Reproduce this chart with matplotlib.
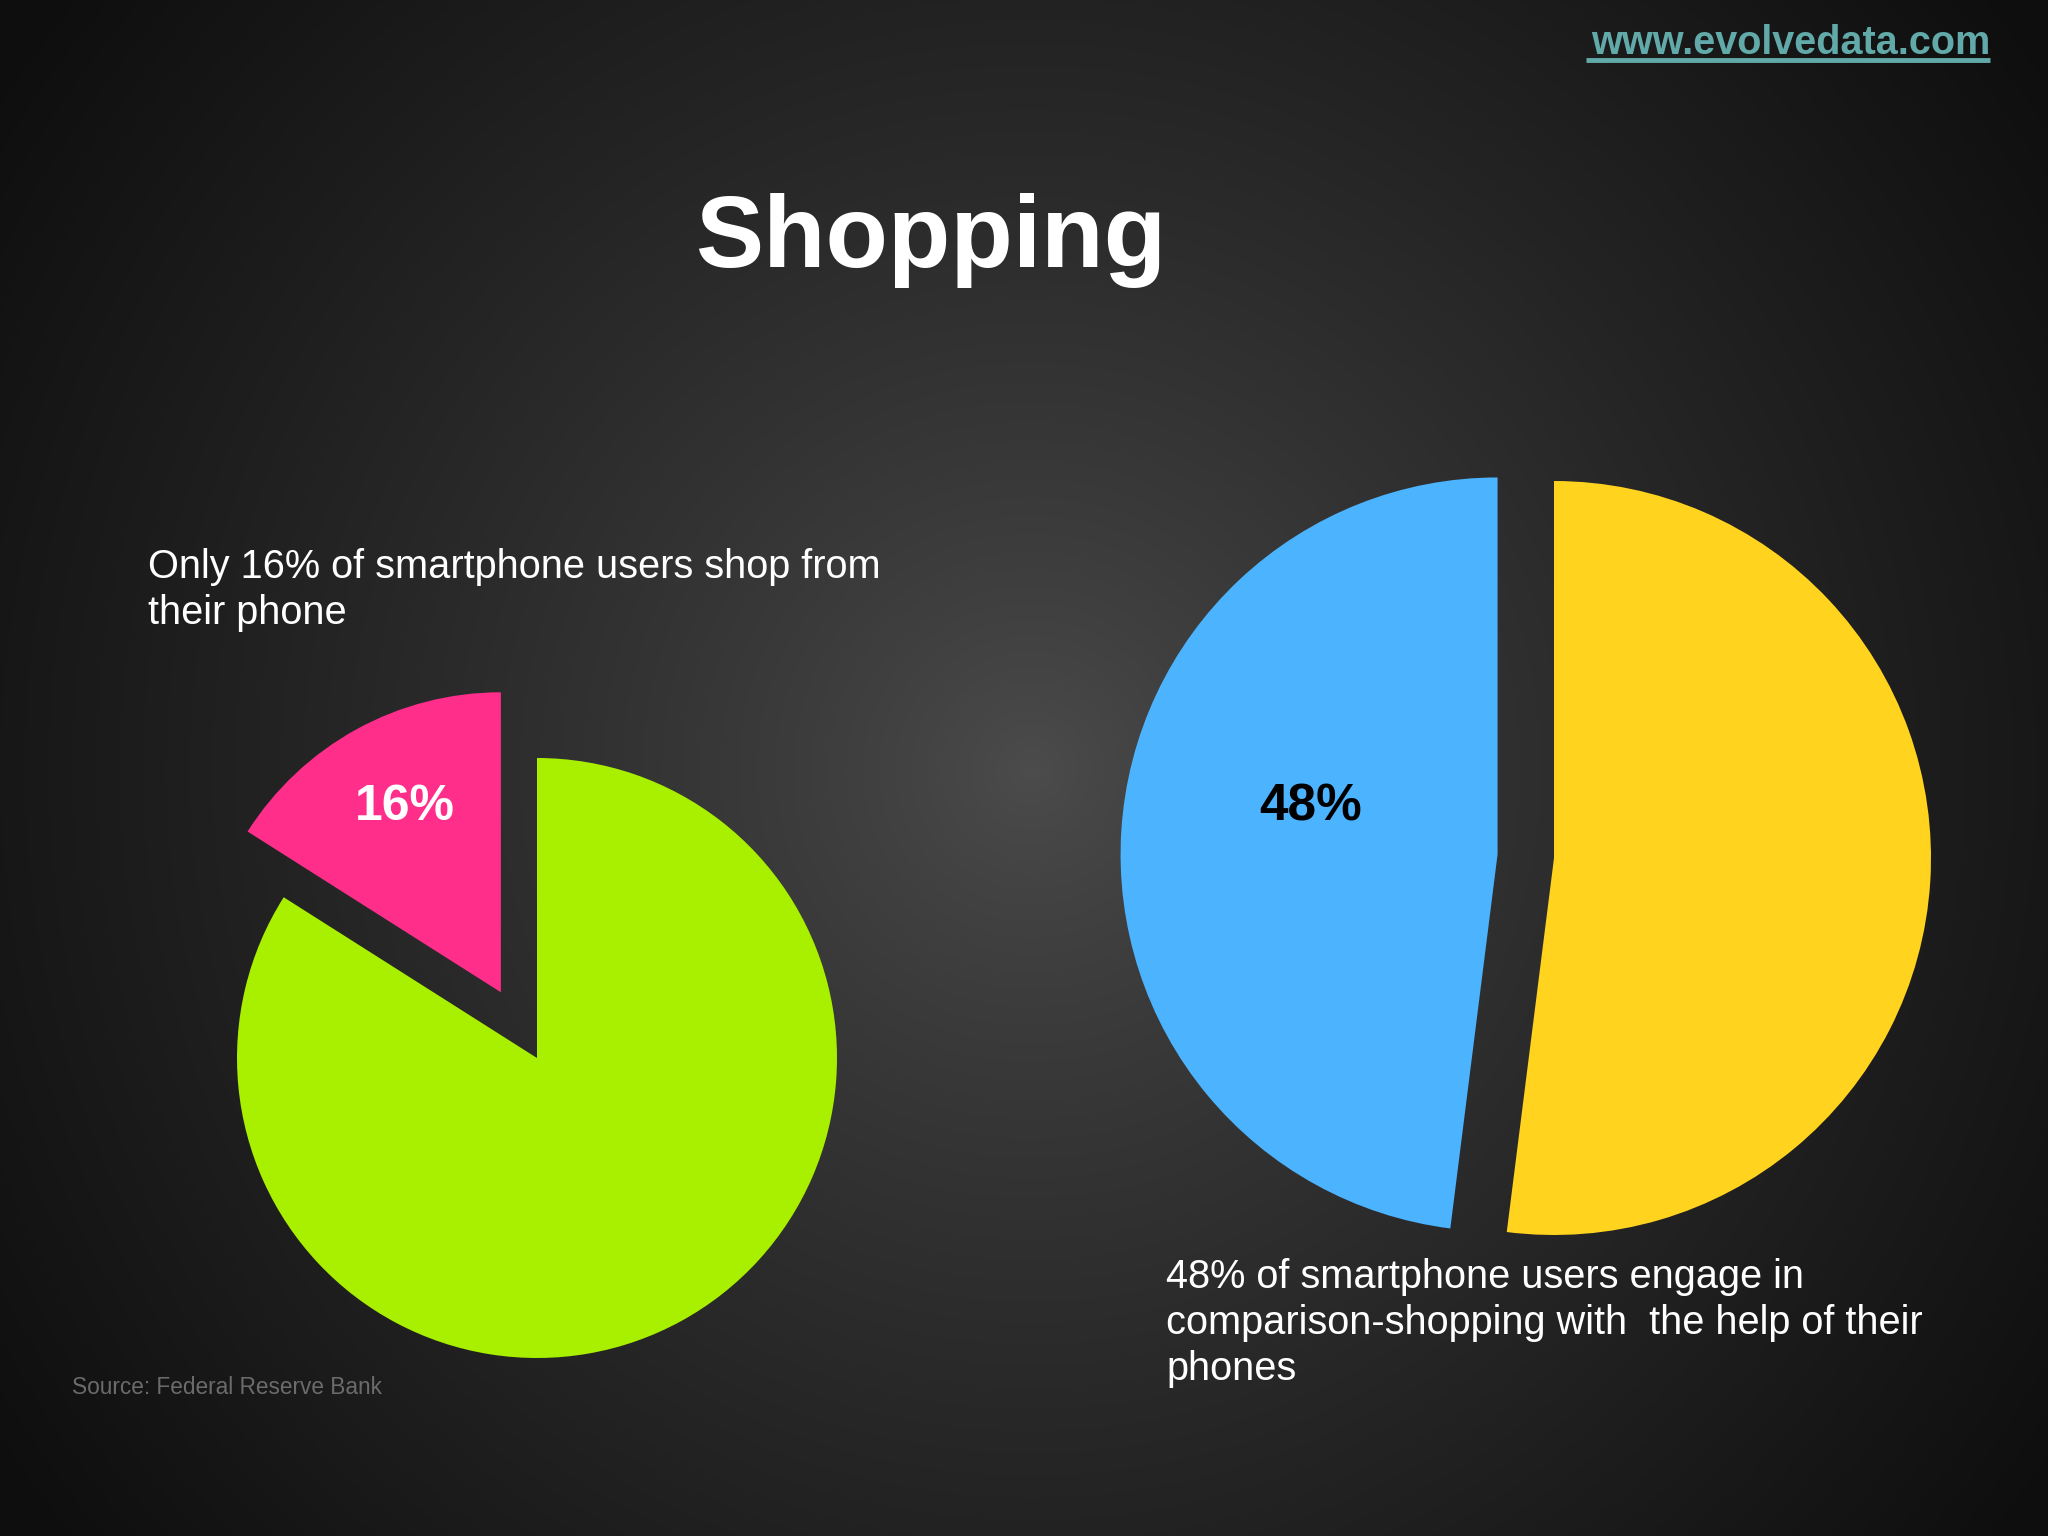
import numpy as np
import matplotlib
matplotlib.use('Agg')
import matplotlib.pyplot as plt

plt.rcParams['font.family'] = ['Liberation Sans', 'DejaVu Sans']

# data
left_values = [16, 84]
left_colors = ['#ff2e8b', '#a9ef00']
right_values = [48, 52]
right_colors = ['#4cb3ff', '#ffd31e']

title = 'Shopping'
url = 'www.evolvedata.com'
left_note = 'Only 16% of smartphone users shop from\ntheir phone'
right_note = '48% of smartphone users engage in\ncomparison-shopping with  the help of their\nphones'
source = 'Source: Federal Reserve Bank'

W, H = 2048, 1536


def Y(y):
    # pixel row (from top) -> data y
    return H - y


fig = plt.figure(figsize=(W / 100, H / 100), dpi=100)
ax = fig.add_axes([0, 0, 1, 1])

# radial gradient background
xx, yy = np.meshgrid(np.arange(W), np.arange(H))
d = np.sqrt((xx - 1030) ** 2 + (yy - 770) ** 2) / 1250
v = 0.30 - 0.245 * np.clip(d, 0, 1) ** 0.8
ax.imshow(np.dstack([v, v, v]), extent=(0, W, 0, H), origin='upper',
          aspect='auto', zorder=0, interpolation='bilinear')

# left pie (explode is in data units, not radius fraction)
r1 = 300
wl, tl, al = ax.pie(left_values, colors=left_colors, startangle=90,
                    explode=[0.25 * r1, 0], center=(537, Y(1058)), radius=r1,
                    autopct=lambda p: f'{p:.0f}%' if p < 50 else '',
                    pctdistance=0.68, frame=True,
                    wedgeprops=dict(linewidth=0))
for t in al:
    t.set_color('white')
    t.set_fontsize(36)
    t.set_fontweight('bold')
al[0].set_position((405, Y(807)))

# right pie
r2 = 377
wr, tr, ar = ax.pie(right_values, colors=right_colors, startangle=90,
                    explode=[0.15 * r2, 0], center=(1554, Y(858)), radius=r2,
                    autopct=lambda p: f'{p:.0f}%' if p < 50 else '',
                    pctdistance=0.51, frame=True,
                    wedgeprops=dict(linewidth=0))
for t in ar:
    t.set_color('black')
    t.set_fontsize(37)
    t.set_fontweight('bold')
ar[0].set_position((1311, Y(807)))

ax.set_xlim(0, W)
ax.set_ylim(0, H)
ax.set_aspect('auto')
ax.axis('off')

ax.text(931, Y(240), title, color='white', fontsize=73.5, fontweight='bold',
        ha='center', va='center')
ax.text(1990, Y(43), url, color='#62aaa9', fontsize=28.5, fontweight='bold',
        ha='right', va='center')
ax.plot([1586, 1990], [Y(60), Y(60)], color='#62aaa9', lw=3.5,
        solid_capstyle='butt')
ax.text(148, Y(548), left_note, color='white', fontsize=28.6, ha='left',
        va='top', linespacing=1.27)
ax.text(1166, Y(1258), right_note, color='white', fontsize=28.6, ha='left',
        va='top', linespacing=1.27)
ax.text(72, Y(1388), source, color='#6b6b6b', fontsize=16.3, ha='left',
        va='center')

fig.savefig('out.png', dpi=100)
